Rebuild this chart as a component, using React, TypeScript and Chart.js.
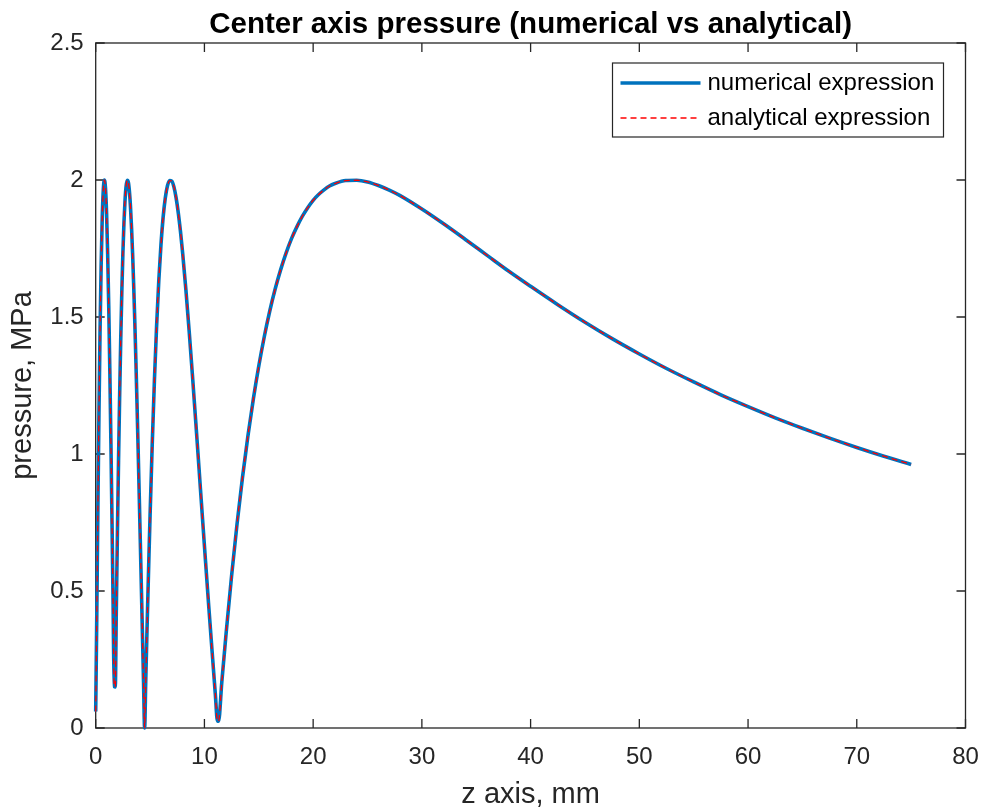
import React, { useEffect, useRef } from 'react';
import { Chart, registerables } from 'chart.js';

Chart.register(...registerables);

// ---- data ----
const zAxisMm = [
  0, 0.1, 0.2, 0.3, 0.4, 0.5, 0.6, 0.7, 0.8, 0.9,
  1.0, 1.1, 1.2, 1.3, 1.4, 1.5, 1.6, 1.7, 1.8, 1.9,
  2.0, 2.1, 2.2, 2.3, 2.4, 2.5, 2.6, 2.7, 2.8, 2.9,
  3.0, 3.1, 3.2, 3.3, 3.4, 3.5, 3.6, 3.7, 3.8, 3.9,
  4.0, 4.1, 4.2, 4.3, 4.4, 4.5, 4.6, 4.7, 4.8, 4.9,
  5.0, 5.2, 5.4, 5.6, 5.8, 6.0, 6.2, 6.4, 6.6, 6.8,
  7.0, 7.2, 7.4, 7.6, 7.8, 8.0, 8.3, 8.6, 8.9, 9.2,
  9.5, 9.8, 10.1, 10.4, 10.7, 11.0, 11.2, 11.3, 11.6, 12.0,
  12.5, 13, 13.5, 14, 14.5, 15, 15.5, 16, 16.5, 17,
  17.5, 18, 18.5, 19, 19.5, 20, 20.5, 21, 21.5, 22,
  23, 24, 25, 26, 27, 28, 30, 32, 34, 36,
  38, 40, 42.5, 45, 47.5, 50, 52.5, 55, 57.5, 60,
  62.5, 65, 67.5, 70, 72.5, 75,
];

const numericalPressure = [
  0.06, 0.412, 0.801, 1.150, 1.448, 1.686, 1.860, 1.964, 2.000, 1.970,
  1.879, 1.732, 1.538, 1.305, 1.040, 0.754, 0.455, 0.151, 0.150, 0.442,
  0.718, 0.975, 1.207, 1.412, 1.588, 1.732, 1.845, 1.927, 1.978, 1.999,
  1.992, 1.959, 1.902, 1.823, 1.725, 1.609, 1.478, 1.335, 1.183, 1.022,
  0.856, 0.686, 0.513, 0.341, 0.169, 0.000, 0.166, 0.327, 0.482, 0.632,
  0.774, 1.037, 1.268, 1.466, 1.630, 1.762, 1.863, 1.934, 1.979, 1.998,
  1.996, 1.974, 1.934, 1.879, 1.811, 1.732, 1.597, 1.447, 1.286, 1.119,
  0.949, 0.778, 0.609, 0.443, 0.282, 0.125, 0.025, 0.025, 0.168, 0.348,
  0.556, 0.745, 0.914, 1.066, 1.201, 1.321, 1.427, 1.520, 1.601, 1.671,
  1.732, 1.785, 1.829, 1.867, 1.899, 1.926, 1.947, 1.964, 1.978, 1.987,
  1.998, 1.999, 1.993, 1.980, 1.963, 1.943, 1.894, 1.840, 1.783, 1.725,
  1.667, 1.612, 1.545, 1.481, 1.421, 1.365, 1.312, 1.263, 1.216, 1.173,
  1.132, 1.094, 1.058, 1.024, 0.992, 0.962,
];

// the analytical curve coincides with the numerical one in the picture
const analyticalPressure = [...numericalPressure];

const xTickValues = [0, 10, 20, 30, 40, 50, 60, 70, 80];
const yTickValues = [0, 0.5, 1, 1.5, 2, 2.5];

const chartTitle = 'Center axis pressure (numerical vs analytical)';
const xAxisTitle = 'z axis, mm';
const yAxisTitle = 'pressure, MPa';
const seriesNames = ['numerical expression', 'analytical expression'];

const FONT = "'Liberation Sans', Arial, Helvetica, sans-serif";
const AXIS_COLOR = '#262626';
const BLUE = '#0072BD';
const RED = '#FF0000';

const axesBoxPlugin = {
  id: 'axesBox',
  beforeDatasetsDraw(chart: any) {
    const { ctx, chartArea: a, scales } = chart;
    ctx.save();
    ctx.strokeStyle = AXIS_COLOR;
    ctx.lineWidth = 1.3;
    ctx.strokeRect(a.left, a.top, a.right - a.left, a.bottom - a.top);
    const L = 9;
    ctx.beginPath();
    scales.x.ticks.forEach((t: any) => {
      const px = scales.x.getPixelForValue(t.value);
      ctx.moveTo(px, a.bottom);
      ctx.lineTo(px, a.bottom - L);
      ctx.moveTo(px, a.top);
      ctx.lineTo(px, a.top + L);
    });
    scales.y.ticks.forEach((t: any) => {
      const py = scales.y.getPixelForValue(t.value);
      ctx.moveTo(a.left, py);
      ctx.lineTo(a.left + L, py);
      ctx.moveTo(a.right, py);
      ctx.lineTo(a.right - L, py);
    });
    ctx.stroke();
    ctx.restore();
  },
};

const titleLegendPlugin = {
  id: 'titleLegend',
  afterDraw(chart: any) {
    const { ctx, chartArea: a } = chart;
    ctx.save();
    // title
    ctx.fillStyle = '#000000';
    ctx.font = `bold 29.5px ${FONT}`;
    ctx.textAlign = 'center';
    ctx.textBaseline = 'middle';
    ctx.fillText(chartTitle, (a.left + a.right) / 2, 25);

    // legend
    const boxW = 331;
    const boxH = 74;
    const boxR = a.right - 22;
    const boxL = boxR - boxW;
    const boxT = a.top + 20;
    ctx.fillStyle = '#ffffff';
    ctx.fillRect(boxL, boxT, boxW, boxH);
    ctx.strokeStyle = AXIS_COLOR;
    ctx.lineWidth = 1.2;
    ctx.strokeRect(boxL, boxT, boxW, boxH);

    const rows = [boxT + 20, boxT + 55];
    const ds = chart.data.datasets;
    const order = [1, 0];
    rows.forEach((ry, i) => {
      const d = ds[order[i]];
      ctx.save();
      ctx.beginPath();
      ctx.strokeStyle = d.borderColor;
      ctx.lineWidth = d.borderWidth;
      ctx.setLineDash(d.borderDash || []);
      ctx.moveTo(boxL + 8, ry);
      ctx.lineTo(boxL + 88, ry);
      ctx.stroke();
      ctx.restore();
      ctx.fillStyle = '#000000';
      ctx.font = `24px ${FONT}`;
      ctx.textAlign = 'left';
      ctx.textBaseline = 'middle';
      ctx.fillText(d.label, boxL + 95, ry);
    });
    ctx.restore();
  },
};

export default function App() {
  const canvasRef = useRef<HTMLCanvasElement | null>(null);

  useEffect(() => {
    const canvas = canvasRef.current;
    if (!canvas) return;
    const numericalPoints = zAxisMm.map((z, i) => ({ x: z, y: numericalPressure[i] }));
    const analyticalPoints = zAxisMm.map((z, i) => ({ x: z, y: analyticalPressure[i] }));

    const chart = new Chart(canvas, {
      type: 'line',
      data: {
        datasets: [
          {
            label: seriesNames[1],
            data: analyticalPoints,
            borderColor: RED,
            borderWidth: 1.3,
            borderDash: [6, 4],
            pointRadius: 0,
            cubicInterpolationMode: 'monotone',
            fill: false,
            order: 1,
            clip: 4,
          },
          {
            label: seriesNames[0],
            data: numericalPoints,
            borderColor: BLUE,
            borderWidth: 3.6,
            pointRadius: 0,
            cubicInterpolationMode: 'monotone',
            fill: false,
            order: 2,
            clip: 4,
          },
        ],
      } as any,
      options: {
        responsive: false,
        animation: false,
        devicePixelRatio: 1,
        layout: { padding: { left: 0, top: 43, right: 16.5, bottom: 0 } },
        plugins: {
          legend: { display: false },
          title: { display: false },
          tooltip: { enabled: false },
        },
        scales: {
          x: {
            type: 'linear',
            min: 0,
            max: 80,
            afterBuildTicks: (s: any) => {
              s.ticks = xTickValues.map((v) => ({ value: v }));
            },
            afterFit: (s: any) => {
              s.height = 82;
              s.paddingLeft = 0;
              s.paddingRight = 0;
            },
            grid: { display: false, drawTicks: false },
            border: { display: false },
            ticks: {
              padding: 15,
              color: AXIS_COLOR,
              font: { family: FONT, size: 24 },
              maxRotation: 0,
              callback: (v: any) => String(v),
            },
            title: {
              display: true,
              text: xAxisTitle,
              color: AXIS_COLOR,
              font: { family: FONT, size: 29, lineHeight: 1 },
              padding: { top: 0, bottom: 1 },
            },
          },
          y: {
            type: 'linear',
            min: 0,
            max: 2.5,
            afterBuildTicks: (s: any) => {
              s.ticks = yTickValues.map((v) => ({ value: v }));
            },
            afterFit: (s: any) => {
              s.width = 95.7;
              s.paddingTop = 0;
              s.paddingBottom = 0;
            },
            grid: { display: false, drawTicks: false },
            border: { display: false },
            ticks: {
              padding: 12,
              color: AXIS_COLOR,
              font: { family: FONT, size: 24 },
              callback: (v: any) => String(v),
            },
            title: {
              display: true,
              text: yAxisTitle,
              color: AXIS_COLOR,
              font: { family: FONT, size: 29, lineHeight: 1 },
              padding: { top: 8, bottom: 0 },
            },
          },
        },
      } as any,
      plugins: [axesBoxPlugin, titleLegendPlugin],
    });

    return () => {
      chart.destroy();
    };
  }, []);

  return (
    <div style={{ position: 'absolute', left: 0, top: 0, width: 982, height: 810, background: '#ffffff' }}>
      <canvas ref={canvasRef} width={982} height={810} style={{ display: 'block' }} />
    </div>
  );
}
